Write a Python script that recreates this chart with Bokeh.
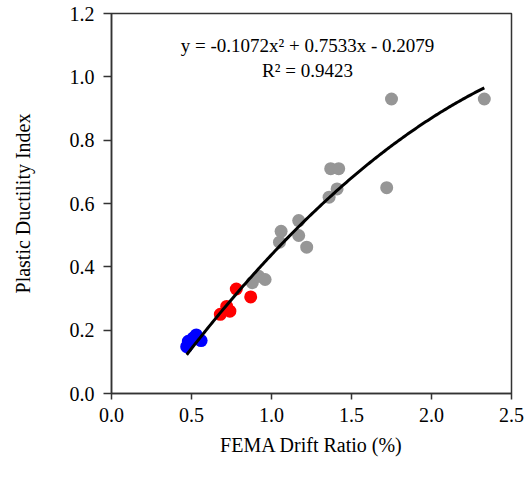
from bokeh.plotting import figure
from bokeh.models import Range1d, FixedTicker, NumeralTickFormatter, Label
from bokeh.embed import file_html
from bokeh.resources import INLINE
import numpy as np

# Data
gray_x = [0.88, 0.92, 0.96, 1.05, 1.06, 1.17, 1.17, 1.22, 1.36, 1.37, 1.41, 1.42, 1.72, 1.75, 2.33]
gray_y = [0.35, 0.37, 0.36, 0.478, 0.512, 0.546, 0.499, 0.462, 0.62, 0.71, 0.646, 0.71, 0.65, 0.93, 0.93]
red_x = [0.68, 0.72, 0.74, 0.78, 0.87]
red_y = [0.25, 0.275, 0.26, 0.33, 0.305]
blue_x = [0.47, 0.48, 0.51, 0.53, 0.56]
blue_y = [0.148, 0.165, 0.175, 0.185, 0.167]

# Trend line coefficients shown on the chart
coef_a = -0.1072
coef_b = 0.7533
coef_c = -0.2079
trend_x_start = 0.47
trend_x_end = 2.33
eq_text = "y = -0.1072x\u00b2 + 0.7533x - 0.2079"
r2_text = "R\u00b2 = 0.9423"

x_ticks = [0.0, 0.5, 1.0, 1.5, 2.0, 2.5]
y_ticks = [0.0, 0.2, 0.4, 0.6, 0.8, 1.0, 1.2]

FONT = "Liberation Serif"

p = figure(width=528, height=479, output_backend="svg", toolbar_location=None,
           x_range=Range1d(0, 2.5), y_range=Range1d(0, 1.2),
           min_border_left=111, min_border_right=17, min_border_top=13, min_border_bottom=86)
p.background_fill_color = "white"
p.border_fill_color = "white"
p.outline_line_color = "#333333"
p.outline_line_width = 1.5
p.grid.visible = False

for ax in (p.xaxis[0], p.yaxis[0]):
    ax.axis_line_color = "#333333"
    ax.axis_line_width = 1.5
    ax.major_tick_line_color = "#333333"
    ax.major_tick_line_width = 1.5
    ax.major_tick_in = 0
    ax.minor_tick_line_color = None
    ax.major_label_text_font = FONT
    ax.major_label_text_font_size = "20px"
    ax.major_label_text_color = "black"
    ax.axis_label_text_font = FONT
    ax.axis_label_text_font_size = "20px"
    ax.axis_label_text_font_style = "normal"
    ax.axis_label_text_color = "black"
    ax.formatter = NumeralTickFormatter(format="0.0")

p.xaxis[0].ticker = FixedTicker(ticks=x_ticks)
p.yaxis[0].ticker = FixedTicker(ticks=y_ticks)
p.xaxis[0].axis_label = "FEMA Drift Ratio (%)"
p.yaxis[0].axis_label = "Plastic Ductility Index"
p.xaxis[0].major_tick_out = 6
p.yaxis[0].major_tick_out = 8
p.xaxis[0].major_label_standoff = 8
p.xaxis[0].axis_label_standoff = 9
p.yaxis[0].major_label_standoff = 9
p.yaxis[0].axis_label_standoff = 33

size = 13
p.scatter(gray_x, gray_y, size=size, fill_color="#969696", line_color=None)
p.scatter(red_x, red_y, size=size, fill_color="#ff0000", line_color=None)
p.scatter(blue_x, blue_y, size=size, fill_color="#0000ff", line_color=None)

tx = np.linspace(trend_x_start, trend_x_end, 200)
ty = coef_a * tx ** 2 + coef_b * tx + coef_c
p.line(tx, ty, line_color="black", line_width=3)

p.add_layout(Label(x=1.225, y=1.099, text=eq_text, text_align="center", text_baseline="middle",
                   text_font=FONT, text_font_size="19px", text_color="black"))
p.add_layout(Label(x=1.225, y=1.02, text=r2_text, text_align="center", text_baseline="middle",
                   text_font=FONT, text_font_size="19px", text_color="black"))

open("out.html", "w").write(file_html(p, INLINE))
